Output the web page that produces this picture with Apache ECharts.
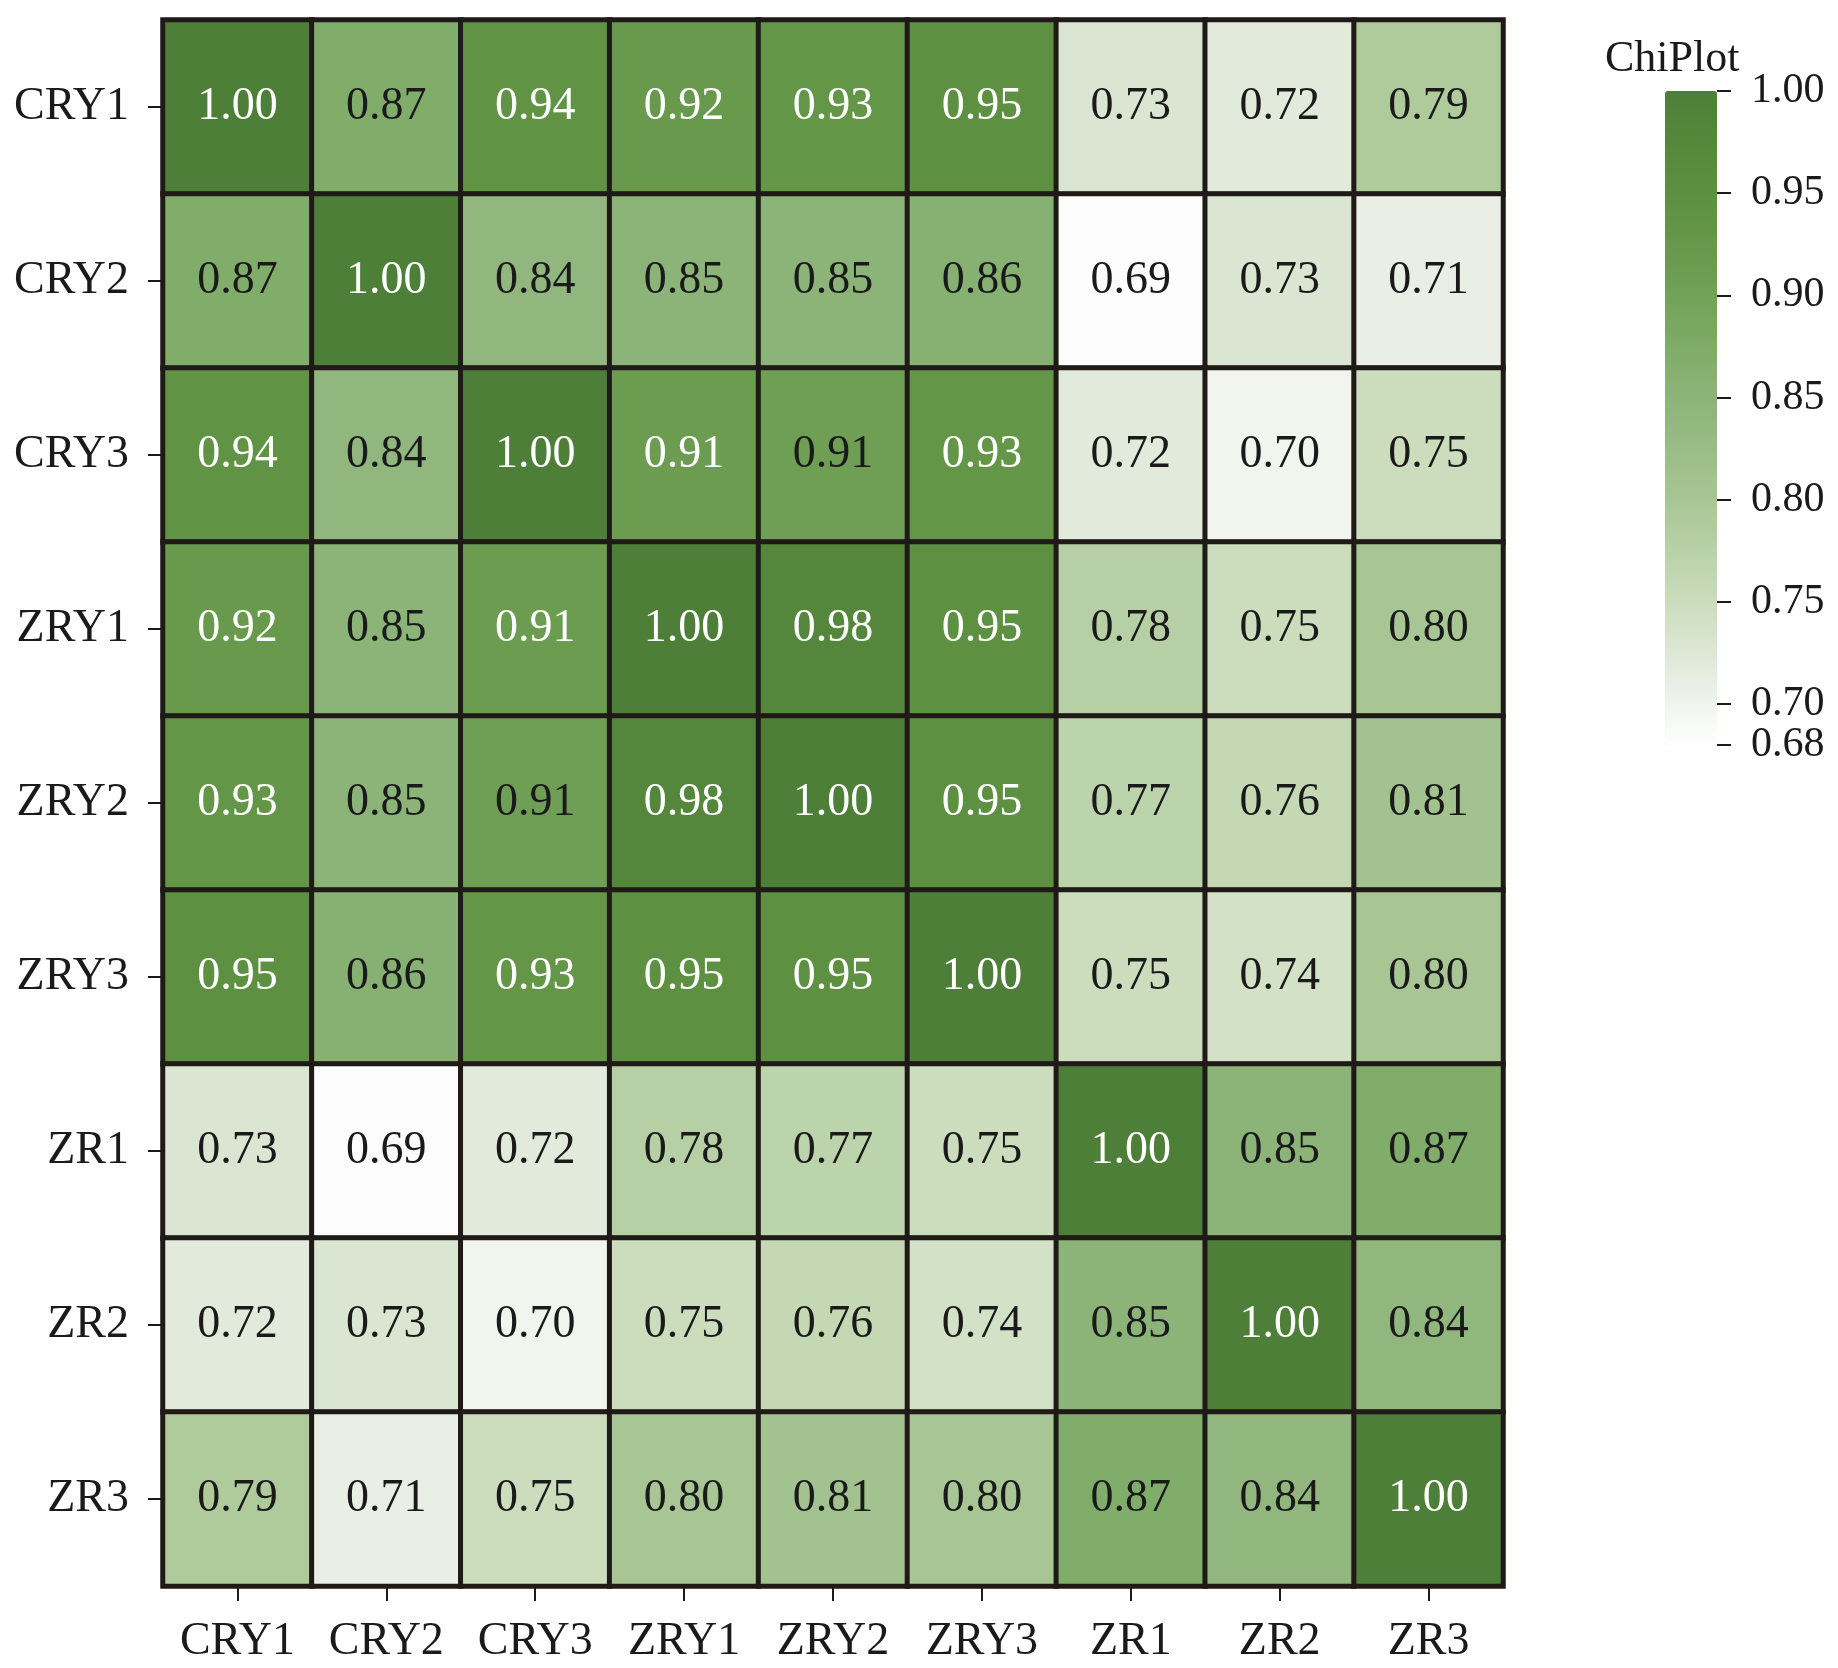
<!DOCTYPE html>
<html>
<head>
<meta charset="utf-8">
<script src="https://cdn.jsdelivr.net/npm/echarts@6/dist/echarts.min.js"></script>
<style>
  html, body { margin: 0; padding: 0; background: #fff; }
  #container { width: 1838px; height: 1668px; }
</style>
</head>
<body>
<div id="container"></div>
<script>
var samples = ['CRY1', 'CRY2', 'CRY3', 'ZRY1', 'ZRY2', 'ZRY3', 'ZR1', 'ZR2', 'ZR3'];

// correlation rows, one per sample (top to bottom)
var rowCRY1 = [1.00, 0.87, 0.94, 0.92, 0.93, 0.95, 0.73, 0.72, 0.79];
var rowCRY2 = [0.87, 1.00, 0.84, 0.85, 0.85, 0.86, 0.685, 0.73, 0.71];
var rowCRY3 = [0.94, 0.84, 1.00, 0.913, 0.907, 0.93, 0.72, 0.70, 0.75];
var rowZRY1 = [0.92, 0.85, 0.913, 1.00, 0.98, 0.95, 0.78, 0.75, 0.80];
var rowZRY2 = [0.93, 0.85, 0.907, 0.98, 1.00, 0.95, 0.77, 0.76, 0.81];
var rowZRY3 = [0.95, 0.86, 0.93, 0.95, 0.95, 1.00, 0.75, 0.74, 0.80];
var rowZR1 = [0.73, 0.685, 0.72, 0.78, 0.77, 0.75, 1.00, 0.85, 0.87];
var rowZR2 = [0.72, 0.73, 0.70, 0.75, 0.76, 0.74, 0.85, 1.00, 0.84];
var rowZR3 = [0.79, 0.71, 0.75, 0.80, 0.81, 0.80, 0.87, 0.84, 1.00];
var rows = [rowCRY1, rowCRY2, rowCRY3, rowZRY1, rowZRY2, rowZRY3, rowZR1, rowZR2, rowZR3];

// colour bar scale (the bottom end tick sits very close to 0.70, so it gets its own axis)
var scaleEndTicks = [0.68];
var scaleTicks = [0.70, 0.75, 0.80, 0.85, 0.90, 0.95, 1.00];
var scaleMin = 0.68;
var scaleMax = 1.00;
var palette = ['#ffffff', '#e2eadb', '#c3d8b3', '#a8c694', '#91b77e', '#7caa65', '#68994c', '#5a8d3d', '#4e7f38'];

var serif = 'Liberation Serif, Times New Roman, serif';
var ink = '#1a1a1a';

var cells = [];
for (var r = 0; r < rows.length; r++) {
  for (var c = 0; c < rows[r].length; c++) {
    var v = rows[r][c];
    cells.push({
      value: [c, r, v],
      label: { color: v >= 0.91 ? '#ffffff' : ink }
    });
  }
}

var scaleAxis = function (ticks) {
  return {
    type: 'value',
    gridIndex: 1,
    position: 'right',
    min: scaleMin,
    max: scaleMax,
    z: 20,
    axisLine: { show: false, onZero: false },
    axisTick: { show: true, length: 14, customValues: ticks, lineStyle: { color: ink, width: 2 } },
    axisLabel: {
      margin: 34,
      customValues: ticks,
      hideOverlap: false,
      fontFamily: serif,
      fontSize: 42,
      color: ink,
      formatter: function (v) { return v.toFixed(2); }
    },
    splitLine: { show: false }
  };
};

var dom = document.getElementById('container');
var myChart = echarts.init(dom, null, { renderer: 'canvas' });

myChart.setOption({
  backgroundColor: '#fff',
  animation: false,
  title: {
    text: 'ChiPlot',
    left: 1600,
    top: 32,
    textStyle: { fontFamily: serif, fontSize: 44, fontWeight: 'normal', color: ink }
  },
  grid: [
    { left: 163, top: 20, width: 1340, height: 1566, outerBoundsMode: 'none' },
    { left: 1665, top: 91, width: 52, height: 654, outerBoundsMode: 'none' }
  ],
  xAxis: [
    {
      type: 'category',
      data: samples,
      gridIndex: 0,
      axisLine: { show: false },
      axisTick: { show: true, alignWithLabel: true, length: 15, lineStyle: { color: ink, width: 2 } },
      axisLabel: { interval: 0, margin: 33, fontFamily: serif, fontSize: 46, color: ink },
      splitLine: { show: false }
    },
    {
      type: 'value',
      gridIndex: 1,
      min: 0,
      max: 1,
      show: false
    }
  ],
  yAxis: [
    {
      type: 'category',
      data: samples,
      inverse: true,
      gridIndex: 0,
      axisLine: { show: false },
      axisTick: { show: true, alignWithLabel: true, length: 15, lineStyle: { color: ink, width: 2 } },
      axisLabel: { interval: 0, margin: 34, fontFamily: serif, fontSize: 46, color: ink },
      splitLine: { show: false }
    },
    scaleAxis(scaleTicks),
    scaleAxis(scaleEndTicks)
  ],
  visualMap: {
    type: 'continuous',
    seriesIndex: 0,
    min: scaleMin,
    max: scaleMax,
    calculable: false,
    orient: 'vertical',
    left: 1665,
    top: 91,
    padding: 0,
    itemWidth: 52,
    itemHeight: 654,
    text: ['', ''],
    showLabel: false,
    hoverLink: false,
    inRange: { color: palette }
  },
  series: [
    {
      type: 'heatmap',
      xAxisIndex: 0,
      yAxisIndex: 0,
      data: cells,
      itemStyle: { borderColor: '#1f1a17', borderWidth: 5 },
      label: {
        show: true,
        fontFamily: serif,
        fontSize: 46,
        formatter: function (p) { return p.value[2].toFixed(2); }
      },
      emphasis: { disabled: true }
    }
  ]
});
</script>
</body>
</html>
